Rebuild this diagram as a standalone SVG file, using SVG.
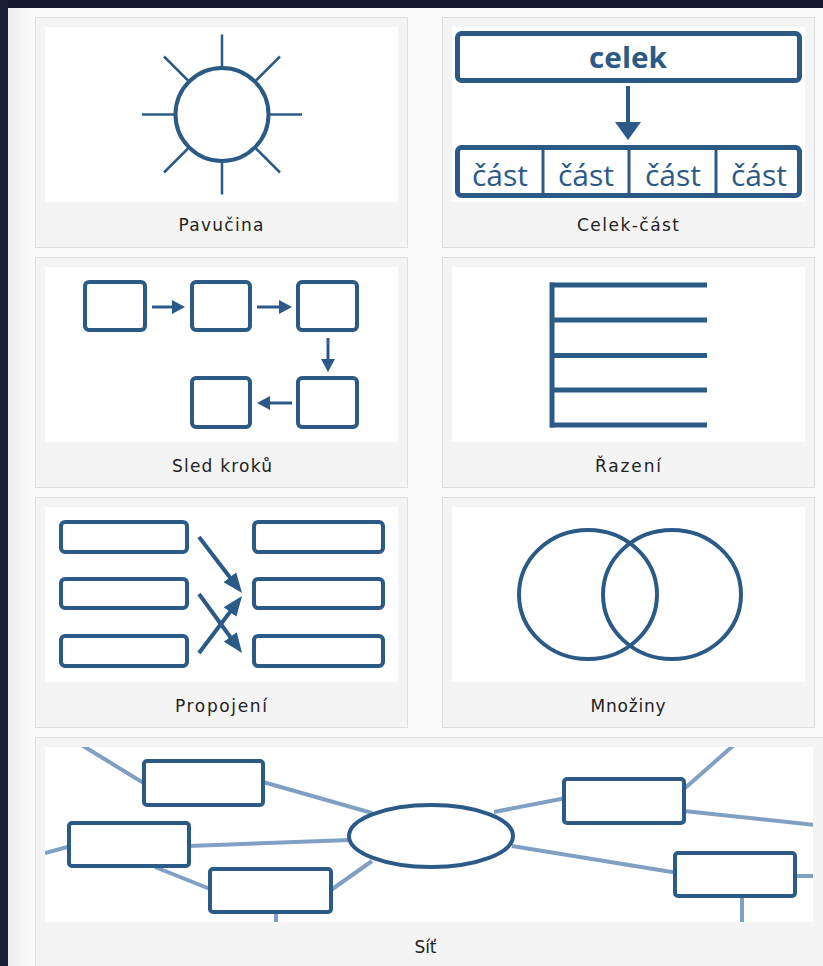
<svg xmlns="http://www.w3.org/2000/svg" width="823" height="966" viewBox="0 0 823 966">
<style>
.panel{fill:#f4f4f4;stroke:#dedede;stroke-width:1}
.inner{fill:#ffffff}
.lbl{font-family:"DejaVu Sans","Liberation Sans",sans-serif;font-size:17px;fill:#222;text-anchor:middle}
.b{fill:#fff;stroke:#2c5a87;stroke-width:4}
.ln{stroke:#2c5a87;fill:none}
.ray{stroke:#2c5a87;stroke-width:2.5}
.net{stroke:#7fa0c2;stroke-width:4;fill:none}
.big{font-family:"Open Sans","Liberation Sans",sans-serif;fill:#2c5a87;text-anchor:middle}
</style>
<defs>
<marker id="ah1" viewBox="0 0 13 14" markerWidth="13" markerHeight="14" refX="4" refY="7" orient="auto" markerUnits="userSpaceOnUse"><path d="M0,0 L13,7 L0,14 z" fill="#2c5a87"/></marker>
<marker id="ah2" viewBox="0 0 20 16" markerWidth="20" markerHeight="16" refX="6" refY="8" orient="auto" markerUnits="userSpaceOnUse"><path d="M0,0 L20,8 L0,16 z" fill="#2c5a87"/></marker>
<clipPath id="netclip"><rect x="45" y="747" width="768" height="175"/></clipPath>
<linearGradient id="lshade" x1="0" y1="0" x2="1" y2="0"><stop offset="0" stop-color="#ececec"/><stop offset="1" stop-color="#fafafa"/></linearGradient>
</defs>
<rect x="0" y="0" width="823" height="966" fill="#fafafa"/>
<rect x="8" y="8" width="22" height="958" fill="url(#lshade)"/>
<rect x="0" y="0" width="823" height="8" fill="#14172e"/>
<rect x="0" y="0" width="8" height="966" fill="#1a1d36"/>

<g id="pavucina">
<rect class="panel" x="35.5" y="17.5" width="372" height="230"/>
<rect class="inner" x="45" y="27" width="353" height="175"/>
<circle cx="222" cy="114.5" r="46.5" fill="none" stroke="#2c5a87" stroke-width="4"/>
<g class="ray">
<line x1="222" y1="34.5" x2="222" y2="66.5"/>
<line x1="222" y1="162.5" x2="222" y2="194.5"/>
<line x1="142" y1="114.5" x2="174" y2="114.5"/>
<line x1="270" y1="114.5" x2="302" y2="114.5"/>
<line x1="164" y1="56.5" x2="188" y2="80.5"/>
<line x1="280" y1="56.5" x2="256" y2="80.5"/>
<line x1="164" y1="172.5" x2="188" y2="148.5"/>
<line x1="280" y1="172.5" x2="256" y2="148.5"/>
</g>
<text class="lbl" x="221" y="231" textLength="85" lengthAdjust="spacing">Pavučina</text>
</g>

<g id="celek-cast">
<rect class="panel" x="442.5" y="17.5" width="372" height="230"/>
<rect class="inner" x="452" y="27" width="353" height="175"/>
<rect x="457.5" y="33.5" width="342" height="47" rx="4" fill="#fff" stroke="#2c5a87" stroke-width="5"/>
<text class="big" x="628" y="68" font-size="28" font-weight="bold" textLength="78" lengthAdjust="spacingAndGlyphs">celek</text>
<line x1="628" y1="86" x2="628" y2="124" stroke="#2c5a87" stroke-width="4"/>
<polygon points="615,122 641,122 628,140" fill="#2c5a87"/>
<rect x="457.5" y="147.5" width="342" height="48" rx="4" fill="#fff" stroke="#2c5a87" stroke-width="5"/>
<g stroke="#2c5a87" stroke-width="3">
<line x1="543" y1="147" x2="543" y2="196"/>
<line x1="629" y1="147" x2="629" y2="196"/>
<line x1="716" y1="147" x2="716" y2="196"/>
</g>
<g class="big" font-size="30">
<text x="500" y="186">část</text>
<text x="586" y="186">část</text>
<text x="673" y="186">část</text>
<text x="759" y="186">část</text>
</g>
<text class="lbl" x="628" y="231" textLength="102" lengthAdjust="spacing">Celek-část</text>
</g>

<g id="sled-kroku">
<rect class="panel" x="35.5" y="257.5" width="372" height="230"/>
<rect class="inner" x="45" y="267" width="353" height="175"/>
<rect class="b" x="85" y="282" width="60" height="48" rx="4"/>
<rect class="b" x="192" y="282" width="58" height="48" rx="4"/>
<rect class="b" x="298" y="282" width="59" height="48" rx="4"/>
<rect class="b" x="192" y="378" width="58" height="49" rx="4"/>
<rect class="b" x="298" y="378" width="59" height="49" rx="4"/>
<g class="ln" stroke-width="3">
<line x1="152" y1="307" x2="176" y2="307" marker-end="url(#ah1)"/>
<line x1="257" y1="307" x2="283" y2="307" marker-end="url(#ah1)"/>
<line x1="328" y1="338" x2="328" y2="363" marker-end="url(#ah1)"/>
<line x1="292" y1="403" x2="266" y2="403" marker-end="url(#ah1)"/>
</g>
<text class="lbl" x="222" y="472" textLength="100" lengthAdjust="spacing">Sled kroků</text>
</g>

<g id="razeni">
<rect class="panel" x="442.5" y="257.5" width="372" height="230"/>
<rect class="inner" x="452" y="267" width="353" height="175"/>
<g class="ln" stroke-width="5">
<line x1="552" y1="282.5" x2="552" y2="427.5"/>
<line x1="550" y1="285" x2="707" y2="285"/>
<line x1="550" y1="320" x2="707" y2="320"/>
<line x1="550" y1="355.5" x2="707" y2="355.5"/>
<line x1="550" y1="390" x2="707" y2="390"/>
<line x1="550" y1="425" x2="707" y2="425"/>
</g>
<text class="lbl" x="628" y="472" textLength="66" lengthAdjust="spacing">Řazení</text>
</g>

<g id="propojeni">
<rect class="panel" x="35.5" y="497.5" width="372" height="230"/>
<rect class="inner" x="45" y="507" width="353" height="175"/>
<rect class="b" x="61" y="522" width="126" height="30" rx="4"/>
<rect class="b" x="61" y="579" width="126" height="29" rx="4"/>
<rect class="b" x="61" y="636" width="126" height="30" rx="4"/>
<rect class="b" x="254" y="522" width="129" height="30" rx="4"/>
<rect class="b" x="254" y="579" width="129" height="29" rx="4"/>
<rect class="b" x="254" y="636" width="129" height="30" rx="4"/>
<g class="ln" stroke-width="4">
<line x1="199" y1="537" x2="233.5" y2="582" marker-end="url(#ah2)"/>
<line x1="199" y1="653" x2="233.6" y2="607.2" marker-end="url(#ah2)"/>
<line x1="199" y1="594" x2="233.8" y2="641.7" marker-end="url(#ah2)"/>
</g>
<text class="lbl" x="221" y="712" textLength="92" lengthAdjust="spacing">Propojení</text>
</g>

<g id="mnoziny">
<rect class="panel" x="442.5" y="497.5" width="372" height="230"/>
<rect class="inner" x="452" y="507" width="353" height="175"/>
<ellipse cx="588" cy="594.5" rx="69" ry="64.5" fill="none" stroke="#2c5a87" stroke-width="4"/>
<ellipse cx="672" cy="594.5" rx="69" ry="64.5" fill="none" stroke="#2c5a87" stroke-width="4"/>
<text class="lbl" x="628" y="712" textLength="75" lengthAdjust="spacing">Množiny</text>
</g>

<g id="sit">
<rect class="panel" x="35.5" y="737.5" width="800" height="240"/>
<rect class="inner" x="45" y="747" width="768" height="175"/>
<g clip-path="url(#netclip)">
<g id="connectors" class="net">
<line x1="80" y1="744" x2="150" y2="787"/>
<line x1="263" y1="782" x2="372" y2="813"/>
<line x1="45" y1="853" x2="75" y2="845"/>
<line x1="189" y1="846" x2="350" y2="840"/>
<line x1="155" y1="867" x2="215" y2="891"/>
<line x1="331" y1="890" x2="372" y2="861"/>
<line x1="276" y1="910" x2="276" y2="925"/>
<line x1="494" y1="812" x2="566" y2="798"/>
<line x1="684" y1="789" x2="735" y2="744"/>
<line x1="684" y1="811" x2="815" y2="825"/>
<line x1="512" y1="846" x2="678" y2="873"/>
<line x1="795" y1="876" x2="815" y2="876"/>
<line x1="742" y1="896" x2="742" y2="925"/>
</g>
<ellipse cx="431" cy="836" rx="82" ry="31" fill="#fff" stroke="#2c5a87" stroke-width="4"/>
<rect class="b" x="144" y="761" width="119" height="44" rx="3"/>
<rect class="b" x="69" y="823" width="120" height="43" rx="3"/>
<rect class="b" x="210" y="869" width="121" height="43" rx="3"/>
<rect class="b" x="564" y="779" width="120" height="44" rx="3"/>
<rect class="b" x="675" y="853" width="120" height="43" rx="3"/>
</g>
<text class="lbl" x="425.5" y="953" textLength="22" lengthAdjust="spacing">Síť</text>
</g>
</svg>
